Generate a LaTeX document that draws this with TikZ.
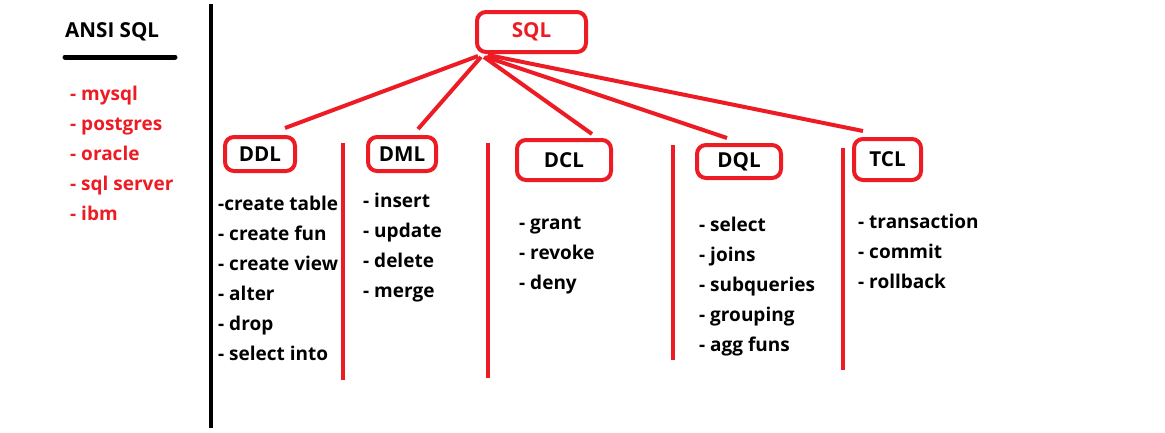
\documentclass[tikz,border=0pt]{standalone}
\usepackage{fontspec}
\setmainfont{Open Sans}
\definecolor{pred}{HTML}{ED1C24}
\begin{document}
\begin{tikzpicture}[x=1pt,y=-1pt,
  every node/.style={font=\fontsize{19}{22}\selectfont\bfseries, inner sep=0pt},
  item/.style={anchor=base west, text=black},
  ritem/.style={anchor=base west, text=pred},
  title/.style={font=\fontsize{20.6}{24}\selectfont\bfseries},
  catbox/.style={title, draw=pred, line width=4pt, rounded corners=9pt, text=black},
  link/.style={draw=pred, line width=4pt},
  sep/.style={draw=pred, line width=4pt},
  blk/.style={draw=black, line width=4pt, line cap=round}]
\useasboundingbox (0,0) rectangle (1165,432);
% left column
\node[item, title] (ansi) at (65,37) {ANSI SQL};
\coordinate (ul1) at (65,57); \coordinate (ul2) at (175,57);
\draw[blk, line width=5pt] (ul1) -- (ul2);
\node[ritem] (r1) at (70,100) {- mysql};
\node[ritem] (r2) at (70,130) {- postgres};
\node[ritem] (r3) at (70,160) {- oracle};
\node[ritem] (r4) at (70,190) {- sql server};
\node[ritem] (r5) at (70,220) {- ibm};
\coordinate (v1) at (211,4); \coordinate (v2) at (211,428);
\draw[blk, line cap=butt] (v1) -- (v2);
% boxes
\node[catbox, text=pred, minimum width=109pt, minimum height=40pt] (sql) at (531.5,32) {SQL};
\node[catbox, minimum width=70pt, minimum height=34pt] (ddl) at (260,154) {DDL};
\node[catbox, minimum width=68pt, minimum height=34pt] (dml) at (402,154) {DML};
\node[catbox, minimum width=94pt, minimum height=40pt] (dcl) at (564,160) {DCL};
\node[catbox, minimum width=84pt, minimum height=33pt] (dql) at (739,161.5) {DQL};
\node[catbox, minimum width=67pt, minimum height=41pt] (tcl) at (887.5,159.5) {TCL};
% connectors
\coordinate (s1) at (478,56); \coordinate (e1) at (285,128);
\coordinate (s2) at (481,57); \coordinate (e2) at (418,129);
\coordinate (s3) at (484,57); \coordinate (e3) at (592,134);
\coordinate (s4) at (486,57); \coordinate (e4) at (727,138);
\coordinate (s5) at (488,55); \coordinate (e5) at (863,131);
\draw[link] (s1) -- (e1);
\draw[link] (s2) -- (e2);
\draw[link] (s3) -- (e3);
\draw[link] (s4) -- (e4);
\draw[link] (s5) -- (e5);
% separators
\coordinate (a1) at (343,143); \coordinate (a2) at (343,380);
\coordinate (b1) at (488,143); \coordinate (b2) at (488,378);
\coordinate (c1) at (673,145); \coordinate (c2) at (673,360);
\coordinate (d1) at (843,148); \coordinate (d2) at (843,370);
\draw[sep] (a1) -- (a2);
\draw[sep] (b1) -- (b2);
\draw[sep] (c1) -- (c2);
\draw[sep] (d1) -- (d2);
% DDL list
\node[item] (ddl1) at (218,210) {-create table};
\node[item] (ddl2) at (218,240) {- create fun};
\node[item] (ddl3) at (218,270) {- create view};
\node[item] (ddl4) at (218,300) {- alter};
\node[item] (ddl5) at (218,330) {- drop};
\node[item] (ddl6) at (218,360) {- select into};
% DML list
\node[item] (dml1) at (363,207) {- insert};
\node[item] (dml2) at (363,237) {- update};
\node[item] (dml3) at (363,267) {- delete};
\node[item] (dml4) at (363,297) {- merge};
% DCL list
\node[item] (dcl1) at (519,229) {- grant};
\node[item] (dcl2) at (519,259) {- revoke};
\node[item] (dcl3) at (519,289) {- deny};
% DQL list
\node[item] (dql1) at (699,231) {- select};
\node[item] (dql2) at (699,261) {- joins};
\node[item] (dql3) at (699,291) {- subqueries};
\node[item] (dql4) at (699,321) {- grouping};
\node[item] (dql5) at (699,351) {- agg funs};
% TCL list
\node[item] (tcl1) at (858,228) {- transaction};
\node[item] (tcl2) at (858,258) {- commit};
\node[item] (tcl3) at (858,288) {- rollback};
\end{tikzpicture}
\end{document}
